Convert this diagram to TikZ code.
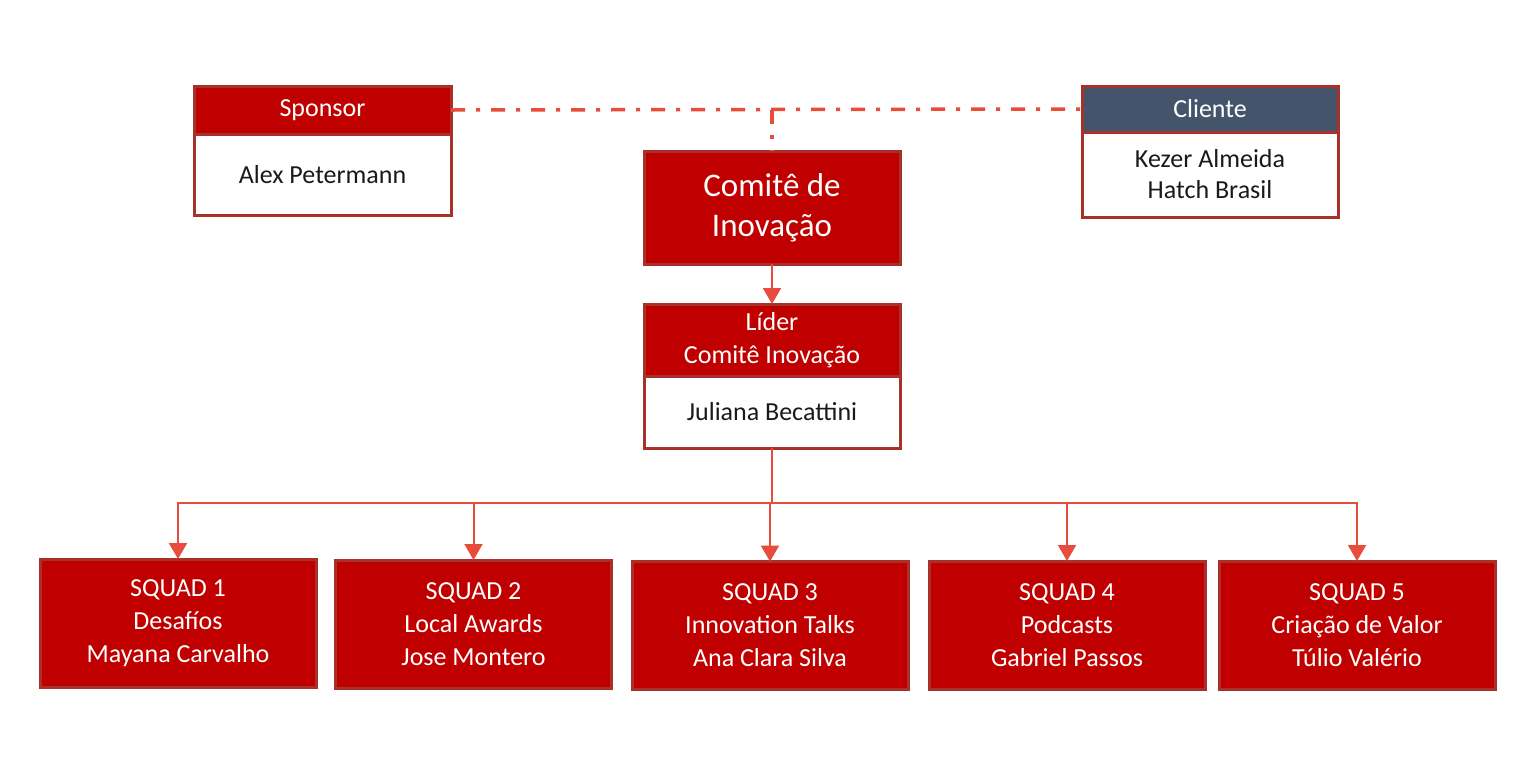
\documentclass[tikz,border=0pt]{standalone}
\usepackage{fontspec}
\setmainfont{Carlito}
\usetikzlibrary{arrows.meta}
\definecolor{hdred}{HTML}{C00000}
\definecolor{bdred}{HTML}{A8322A}
\definecolor{lnred}{HTML}{E84C3D}
\definecolor{slate}{HTML}{44546A}
\definecolor{txt}{HTML}{1A1A1A}
\begin{document}
\begin{tikzpicture}[x=1pt,y=-1pt,
  box/.style={draw=bdred,line width=3pt,rectangle,inner sep=0pt,outer sep=0pt,align=center},
  redhead/.style={box,fill=hdred,text=white,font=\fontsize{26}{33}\selectfont},
  slatehead/.style={box,fill=slate,text=white,font=\fontsize{26}{33}\selectfont},
  whitebody/.style={box,fill=white,text=txt,font=\fontsize{26}{31}\selectfont},
  squad/.style={box,fill=hdred,text=white,minimum width=276pt,minimum height=128pt,font=\fontsize{26}{33}\selectfont},
  dashdot/.style={draw=lnred,line width=3.5pt,dash pattern=on 14pt off 11pt on 4pt off 11pt},
  arr/.style={draw=lnred,line width=2pt,-{Triangle[width=18pt,length=16pt]}},
  conn/.style={draw=lnred,line width=2pt}]
\useasboundingbox (0,0) rectangle (1534,772);
\fill[white] (0,0) rectangle (1534,772);
% Sponsor
\node[redhead,minimum width=257pt,minimum height=48pt] (sph) at (322.5,110) {Sponsor};
\node[whitebody,minimum width=257pt,minimum height=81pt] (spb) at (322.5,174.5) {Alex Petermann};
% Cliente
\node[slatehead,minimum width=256pt,minimum height=46pt] (clh) at (1210,109) {Cliente};
\node[whitebody,minimum width=256pt,minimum height=85pt] (clb) at (1210,174.5) {Kezer Almeida\\Hatch Brasil};
% Comite
\node[box,fill=hdred,text=white,minimum width=256pt,minimum height=113pt,font=\fontsize{33}{40}\selectfont] (com) at (772,207.5) {Comitê de\\Inovação};
% Lider
\node[redhead,minimum width=256pt,minimum height=72pt] (ldh) at (772,340) {Líder\\Comitê Inovação};
\node[whitebody,minimum width=256pt,minimum height=72pt] (ldb) at (772,412) {Juliana Becattini};
% Squads
\node[squad] (sq1) at (178,623) {SQUAD 1\\Desafíos\\Mayana Carvalho};
\node[squad] (sq2) at (473.5,624) {SQUAD 2\\Local Awards\\Jose Montero};
\node[squad] (sq3) at (770,625.5) {SQUAD 3\\Innovation Talks\\Ana Clara Silva};
\node[squad] (sq4) at (1067,625) {SQUAD 4\\Podcasts\\Gabriel Passos};
\node[squad] (sq5) at (1357,625) {SQUAD 5\\Criação de Valor\\Túlio Valério};
% dash-dot connectors
\draw[dashdot] (sph.east) -- (clh.west);
\coordinate (jn) at (com.north |- sph.east);
\draw[dashdot] (jn) -- (com.north);
% arrows
\draw[arr] (com.south) -- (ldh.north);
\coordinate (bus) at (772,503);
\draw[conn] (ldb.south) -- (bus);
\foreach \s in {sq1,sq2,sq3,sq4,sq5}{
  \draw[arr] (bus) -| (\s.north);
}
\end{tikzpicture}
\end{document}
